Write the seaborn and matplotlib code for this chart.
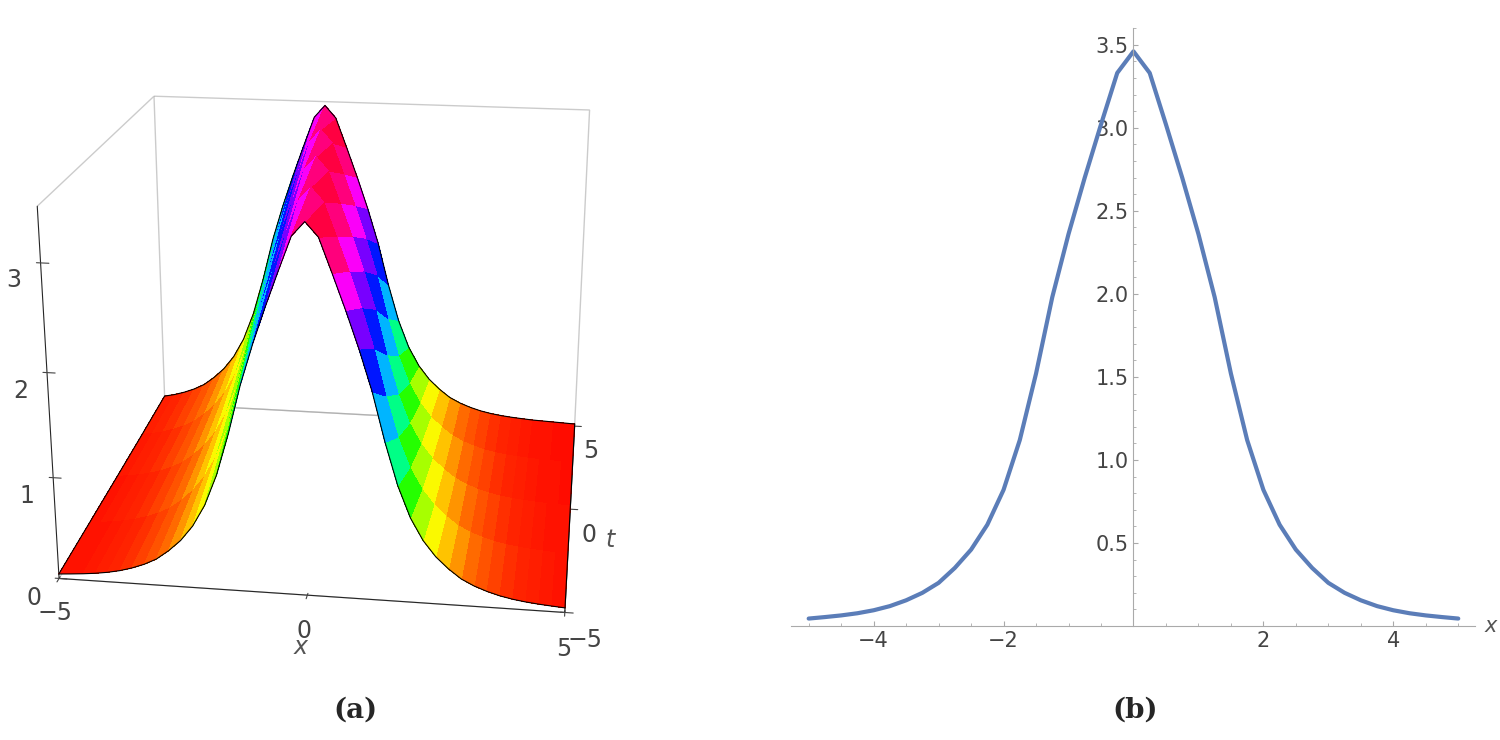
import numpy as np
import pandas as pd
import seaborn as sns
import matplotlib
matplotlib.use("Agg")
import matplotlib.pyplot as plt

# profile, x from -5 to 6 in 0.25 steps (right half mirrored)
half_x = [0, 0.25, 0.5, 0.75, 1, 1.25, 1.5, 1.75, 2, 2.25, 2.5, 2.75, 3, 3.25,
          3.5, 3.75, 4, 4.25, 4.5, 4.75, 5, 5.25, 5.5, 5.75, 6]
half_u = [3.46, 3.33, 3.02, 2.70, 2.36, 1.98, 1.52, 1.12, 0.82, 0.61, 0.46, 0.35,
          0.26, 0.20, 0.155, 0.12, 0.095, 0.077, 0.064, 0.054, 0.045, 0.04, 0.035,
          0.03, 0.025]
x_vals = [-v for v in half_x[1:21][::-1]] + half_x
u_vals = half_u[1:21][::-1] + half_u
t_rows = [-5, -2.5, 0, 2.5, 5]  # each row shifts the profile by one 0.25 step

sns.set_style("white")
fig = plt.figure(figsize=(15, 7.4), dpi=100)

# ---- (a) surface
ax3 = fig.add_axes([-0.07, 0.03, 0.58, 1.02], projection="3d")
ax3.set_proj_type("persp", focal_length=0.45)
n = 41
xs = np.array(x_vals[:n])
X, T = np.meshgrid(xs, np.array(t_rows))
Z = np.array([u_vals[k:k + n] for k in range(len(t_rows))])
cols = plt.cm.hsv(Z / max(u_vals) * 0.97)
ax3.plot_surface(X, T, Z, facecolors=cols, shade=False, linewidth=0,
                 antialiased=False, rstride=1, cstride=1)
for k in [0, len(t_rows) - 1]:
    ax3.plot(xs, [t_rows[k]] * n, Z[k], color="black", lw=0.8)
ax3.plot([-5] * 5, t_rows, Z[:, 0], color="black", lw=0.8)
ax3.plot([5] * 5, t_rows, Z[:, -1], color="black", lw=0.8)
ax3.set_xlim(-5, 5)
ax3.set_ylim(-5, 5)
ax3.set_zlim(0, 3.5)
ax3.set_xticks([-5, 0, 5])
ax3.set_yticks([-5, 0, 5])
ax3.set_zticks([0, 1, 2, 3])
ax3.tick_params(labelsize=17, colors="#444444")
ax3.set_xlabel("x", fontsize=17, style="italic", color="#555555")
ax3.set_ylabel("t", fontsize=17, style="italic", color="#555555")
for a in (ax3.xaxis, ax3.yaxis, ax3.zaxis):
    a.pane.fill = False
    a.pane.set_edgecolor("#999999")
    a._axinfo["grid"]["linewidth"] = 0
ax3.zaxis._axinfo["juggled"] = (1, 2, 0)
ax3.grid(False)
ax3.set_box_aspect((1.3, 1.2, 1.0), zoom=0.95)
ax3.view_init(elev=20, azim=-82)

# ---- (b) curve
ax = fig.add_axes([0.527, 0.154, 0.456, 0.808])
df = pd.DataFrame({"x": x_vals[:41], "u": u_vals[:41]})
sns.lineplot(data=df, x="x", y="u", ax=ax, color="#5b7db8", lw=3)
ax.set_xlim(-5.28, 5.25)
ax.set_ylim(0, 3.6)
ax.spines["left"].set_position(("data", 0))
ax.spines["bottom"].set_position(("data", 0))
for s in ["top", "right"]:
    ax.spines[s].set_visible(False)
for s in ["left", "bottom"]:
    ax.spines[s].set_color("#aaaaaa")
ax.set_xticks([-4, -2, 2, 4])
ax.set_yticks([0.5, 1.0, 1.5, 2.0, 2.5, 3.0, 3.5])
ax.set_yticklabels(["0.5", "1.0", "1.5", "2.0", "2.5", "3.0", "3.5"])
ax.minorticks_on()
ax.tick_params(which="both", direction="in", colors="#aaaaaa", labelcolor="#444444",
               labelsize=15, left=True, bottom=True)
ax.set_xlabel("")
ax.set_ylabel("")
ax.text(5.4, 0, "x", fontsize=15, style="italic", color="#555555", va="center")

fig.text(0.237, 0.03, "(a)", fontsize=20, weight="bold", family="serif", ha="center")
fig.text(0.757, 0.03, "(b)", fontsize=20, weight="bold", family="serif", ha="center")
fig.savefig("out.png")
